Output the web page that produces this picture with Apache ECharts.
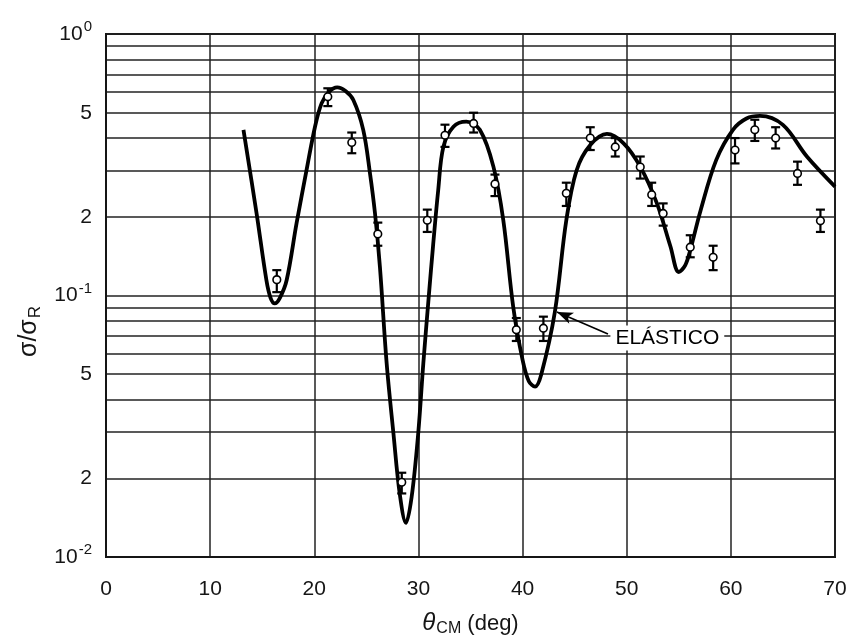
<!DOCTYPE html>
<html>
<head>
<meta charset="utf-8">
<script src="https://cdn.jsdelivr.net/npm/echarts@6/dist/echarts.min.js"></script>
<style>
  html, body { margin: 0; padding: 0; background: #fff; }
  #chart { width: 850px; height: 643px; }
</style>
</head>
<body>
<div id="chart"></div>
<script>
// elastic curve (theta, sigma/sigmaR)
var curveTheta = [13.2, 14.46, 15.4, 15.8, 16.2, 16.7, 17.35, 18.3, 19.26, 20.07, 20.7, 21.4, 22.2, 23.0, 23.75, 24.7, 25.35, 25.83, 26.3, 26.95, 27.6, 28.2, 28.8, 29.35, 29.98, 30.47, 31.0, 31.4, 31.9, 32.4, 33.36, 34.6, 35.9, 37.2, 38.15, 39.1, 40.0, 40.6, 41.2, 41.8, 43.1, 44.2, 45.2, 46.5, 48.1, 49.7, 51.3, 52.9, 54.2, 55.0, 55.6, 56.1, 57.1, 58.6, 60.2, 61.5, 62.8, 65.0, 67.3, 70.0];
var curveValue = [0.43, 0.206, 0.1146, 0.098, 0.0933, 0.098, 0.1146, 0.189, 0.302, 0.442, 0.543, 0.60, 0.625, 0.605, 0.559, 0.43, 0.293, 0.206, 0.129, 0.055, 0.0297, 0.0175, 0.0135, 0.017, 0.0297, 0.055, 0.1, 0.154, 0.253, 0.371, 0.442, 0.462, 0.43, 0.311, 0.194, 0.0906, 0.0567, 0.047, 0.0448, 0.05, 0.0865, 0.194, 0.302, 0.376, 0.415, 0.382, 0.311, 0.225, 0.154, 0.123, 0.13, 0.149, 0.212, 0.330, 0.430, 0.475, 0.486, 0.449, 0.340, 0.261];

// measured points with error bars
var pointTheta = [16.4, 21.3, 23.6, 26.1, 28.4, 30.85, 32.55, 35.3, 37.35, 39.4, 42.0, 44.2, 46.5, 48.9, 51.3, 52.4, 53.5, 56.1, 58.3, 60.4, 62.3, 64.3, 66.4, 68.6];
var pointValue = [0.115, 0.575, 0.385, 0.172, 0.0193, 0.194, 0.41, 0.455, 0.267, 0.074, 0.075, 0.246, 0.40, 0.37, 0.31, 0.243, 0.206, 0.153, 0.14, 0.36, 0.43, 0.40, 0.293, 0.193];
var pointLow = [0.103, 0.53, 0.35, 0.155, 0.0175, 0.175, 0.37, 0.42, 0.24, 0.067, 0.067, 0.22, 0.36, 0.34, 0.28, 0.22, 0.185, 0.14, 0.125, 0.32, 0.39, 0.365, 0.265, 0.175];
var pointHigh = [0.125, 0.62, 0.42, 0.19, 0.021, 0.213, 0.45, 0.50, 0.29, 0.082, 0.083, 0.27, 0.44, 0.40, 0.34, 0.27, 0.225, 0.17, 0.155, 0.40, 0.47, 0.44, 0.325, 0.213];

// axis ticks
var xTicks = [0, 10, 20, 30, 40, 50, 60, 70];
var yGridValues = [0.01, 0.02, 0.03, 0.04, 0.05, 0.06, 0.07, 0.08, 0.09, 0.1, 0.2, 0.3, 0.4, 0.5, 0.6, 0.7, 0.8, 0.9, 1];
var yLabelValues = [0.01, 0.02, 0.05, 0.1, 0.2, 0.5, 1];

var FONT = 'Liberation Sans';
var INK = '#151515';

var chart = echarts.init(document.getElementById('chart'));

function yLabel(v) {
    if (Math.abs(v - 1) < 1e-9) return '{b|10}{sup|0}';
    if (Math.abs(v - 0.1) < 1e-9) return '{b|10}{sup|-1}';
    if (Math.abs(v - 0.01) < 1e-9) return '{b|10}{sup|-2}';
    var e = Math.floor(Math.log(v) / Math.LN10 + 1e-9);
    return '{b|' + Math.round(v / Math.pow(10, e)) + '}';
}

var option = {
    backgroundColor: '#fff',
    animation: false,
    grid: {
        left: 106, right: 15, top: 34, bottom: 86,
        show: true, borderColor: INK, borderWidth: 2
    },
    xAxis: {
        type: 'value',
        min: 0, max: 70, interval: 10,
        axisLine: { show: true, lineStyle: { color: INK, width: 2 } },
        axisTick: { show: false },
        axisLabel: {
            margin: 22, color: INK, fontFamily: FONT, fontSize: 21,
            customValues: xTicks
        },
        splitLine: { show: true, lineStyle: { color: '#222', width: 1.5 } },
        name: '{th|θ}{sub|CM}{n| (deg)}',
        nameLocation: 'middle',
        nameGap: 53,
        nameTextStyle: {
            color: INK, fontFamily: FONT,
            rich: {
                th: { fontSize: 24, fontStyle: 'italic', fontFamily: FONT, color: INK },
                sub: { fontSize: 16, fontFamily: FONT, color: INK, padding: [11, 0, 0, 1] },
                n: { fontSize: 22, fontFamily: FONT, color: INK }
            }
        }
    },
    yAxis: {
        type: 'log',
        logBase: 10,
        min: 0.01, max: 1,
        axisLine: { show: true, lineStyle: { color: INK, width: 2 } },
        axisTick: { show: false, customValues: yGridValues },
        axisLabel: {
            margin: 14, color: INK, fontFamily: FONT,
            customValues: yLabelValues,
            formatter: yLabel,
            rich: {
                b: { fontSize: 21, fontFamily: FONT, color: INK },
                sup: { fontSize: 15, fontFamily: FONT, color: INK, padding: [0, 0, 14, 1] }
            }
        },
        splitLine: { show: true, lineStyle: { color: '#222', width: 1.5 } },
        name: '{a|σ/σ}{sub|R}',
        nameLocation: 'middle',
        nameRotate: 90,
        nameGap: 62,
        nameTextStyle: {
            color: INK, fontFamily: FONT,
            padding: [0, 72, 0, 0],
            rich: {
                a: { fontSize: 25, fontFamily: FONT, color: INK },
                sub: { fontSize: 17, fontFamily: FONT, color: INK, padding: [12, 0, 0, 1] }
            }
        }
    },
    series: [
        {
            name: 'ELÁSTICO',
            type: 'line',
            data: curveTheta.map(function (t, i) { return [t, curveValue[i]]; }),
            showSymbol: false,
            smooth: 0.35,
            lineStyle: { color: '#000', width: 3.8 },
            z: 3,
            markLine: {
                silent: true,
                symbol: ['none', 'arrow'],
                symbolSize: [9, 16],
                lineStyle: { color: '#000', width: 1.6, type: 'solid' },
                label: { show: false },
                data: [[
                    { coord: [48.2, 0.0713] },
                    { coord: [43.3, 0.0865] }
                ]]
            },
            markPoint: {
                silent: true,
                symbol: 'circle',
                symbolSize: 0,
                label: {
                    show: true,
                    position: 'inside',
                    formatter: 'ELÁSTICO',
                    color: '#000',
                    fontFamily: FONT,
                    fontSize: 21,
                    backgroundColor: '#fff',
                    padding: [2, 5, 2, 5]
                },
                data: [{ coord: [53.9, 0.0688] }]
            }
        },
        {
            type: 'custom',
            z: 4,
            data: pointTheta.map(function (t, i) { return [t, pointValue[i], pointLow[i], pointHigh[i]]; }),
            renderItem: function (params, api) {
                var x = api.value(0);
                var c = api.coord([x, api.value(1)]);
                var lo = api.coord([x, api.value(2)]);
                var hi = api.coord([x, api.value(3)]);
                var cap = 4.5;
                var st = { stroke: '#000', lineWidth: 2.2 };
                return {
                    type: 'group',
                    children: [
                        { type: 'line', shape: { x1: c[0], y1: lo[1], x2: c[0], y2: hi[1] }, style: st },
                        { type: 'line', shape: { x1: c[0] - cap, y1: hi[1], x2: c[0] + cap, y2: hi[1] }, style: st },
                        { type: 'line', shape: { x1: c[0] - cap, y1: lo[1], x2: c[0] + cap, y2: lo[1] }, style: st },
                        { type: 'circle', shape: { cx: c[0], cy: c[1], r: 3.8 }, style: { fill: '#fff', stroke: '#000', lineWidth: 1.6 } }
                    ]
                };
            }
        }
    ]
};

chart.setOption(option);
</script>
</body>
</html>
